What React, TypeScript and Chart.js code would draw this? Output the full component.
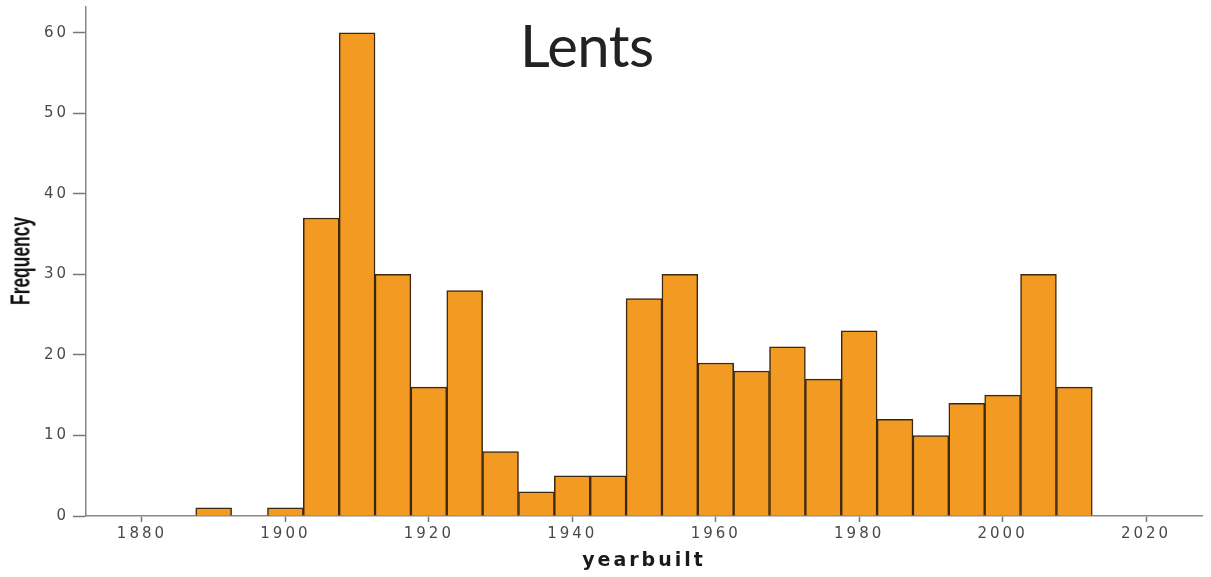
import React, { useEffect, useRef } from "react";
import { Chart, registerables } from "chart.js";

Chart.register(...registerables);

// ---- data ----
const binCenters = [
  1890, 1895, 1900, 1905, 1910, 1915, 1920, 1925, 1930, 1935, 1940, 1945, 1950,
  1955, 1960, 1965, 1970, 1975, 1980, 1985, 1990, 1995, 2000, 2005, 2010,
];
const frequencies = [
  1, 0, 1, 37, 60, 30, 16, 28, 8, 3, 5, 5, 27, 30, 19, 18, 21, 17, 23, 12, 10,
  14, 15, 30, 16,
];
const xTickValues = [1880, 1900, 1920, 1940, 1960, 1980, 2000, 2020];
const yTickValues = [0, 10, 20, 30, 40, 50, 60];
const chartTitle = "Lents";
const xAxisTitle = "yearbuilt";
const yAxisTitle = "Frequency";

const spacingPlugin = {
  id: "tickSpacing",
  beforeDraw(chart: any) {
    chart.ctx.letterSpacing = "3px";
  },
  afterDraw(chart: any) {
    chart.ctx.letterSpacing = "0px";
  },
};

export default function App() {
  const canvasRef = useRef<HTMLCanvasElement | null>(null);

  useEffect(() => {
    if (!canvasRef.current) return;
    const points = binCenters.map((x, i) => ({ x, y: frequencies[i] }));
    const chart = new Chart(canvasRef.current, {
      type: "bar",
      data: {
        datasets: [
          {
            data: points as any,
            backgroundColor: "#F29A21",
            borderColor: "#3b2810",
            borderWidth: 1.5,
            borderSkipped: "start",
            barPercentage: 1,
            categoryPercentage: 1,
          },
        ],
      },
      plugins: [spacingPlugin],
      options: {
        responsive: false,
        animation: false,
        layout: { padding: { top: 7, right: 9, left: 0, bottom: 0 } },
        plugins: {
          legend: { display: false },
          tooltip: { enabled: false },
          title: { display: false },
        },
        scales: {
          x: {
            type: "linear",
            min: 1872.2,
            max: 2027.8,
            offset: false,
            afterBuildTicks: (s: any) => {
              s.ticks = xTickValues.map((v) => ({ value: v }));
            },
            afterFit: (s: any) => {
              s.height = 61;
              s.paddingLeft = 0;
              s.paddingRight = 0;
            },
            grid: {
              offset: false,
              drawOnChartArea: false,
              drawTicks: true,
              tickLength: 6,
              tickColor: "#777",
              tickWidth: 1.5,
            },
            border: { color: "#888", width: 1.5 },
            ticks: {
              autoSkip: false,
              maxRotation: 0,
              padding: 3,
              color: "#4a4a4a",
              font: { family: "DejaVu Sans", size: 15 },
              callback: (v: any) => String(v),
            },
            title: {
              display: true,
              text: xAxisTitle,
              color: "#1a1a1a",
              font: { family: "DejaVu Sans", weight: "bold", size: 19 },
              padding: { top: 0, bottom: 5 },
            },
          },
          y: {
            type: "linear",
            min: 0,
            max: 63.2,
            afterBuildTicks: (s: any) => {
              s.ticks = yTickValues.map((v) => ({ value: v }));
            },
            afterFit: (s: any) => {
              s.width = 86;
              s.paddingTop = 0;
              s.paddingBottom = 0;
            },
            grid: {
              drawOnChartArea: false,
              drawTicks: true,
              tickLength: 13,
              tickColor: "#777",
              tickWidth: 1.5,
            },
            border: { color: "#888", width: 1.5 },
            ticks: {
              padding: 4,
              color: "#4a4a4a",
              font: { family: "DejaVu Sans", size: 15 },
              callback: (v: any) => String(v),
            },
          },
        },
      } as any,
    });
    return () => chart.destroy();
  }, []);

  return (
    <div
      style={{
        position: "fixed",
        left: 0,
        top: 0,
        width: 1211,
        height: 577,
        background: "#fff",
        overflow: "hidden",
      }}
    >
      <canvas ref={canvasRef} width={1211} height={577} style={{ display: "block" }} />
      <div
        style={{
          position: "absolute",
          left: 520,
          top: 16,
          fontFamily: "Lato, sans-serif",
          fontSize: 58,
          letterSpacing: "-0.5px",
          lineHeight: 1,
          color: "#222",
          whiteSpace: "nowrap",
        }}
      >
        {chartTitle}
      </div>
      <div
        style={{
          position: "absolute",
          left: 21,
          top: 261,
          fontFamily: "'Liberation Sans Narrow', 'Liberation Sans', sans-serif",
          fontWeight: "bold",
          fontSize: 27,
          lineHeight: 1,
          color: "#111",
          whiteSpace: "nowrap",
          transform: "translate(-50%, -50%) rotate(-90deg) scaleX(0.645)",
        }}
      >
        {yAxisTitle}
      </div>
    </div>
  );
}
